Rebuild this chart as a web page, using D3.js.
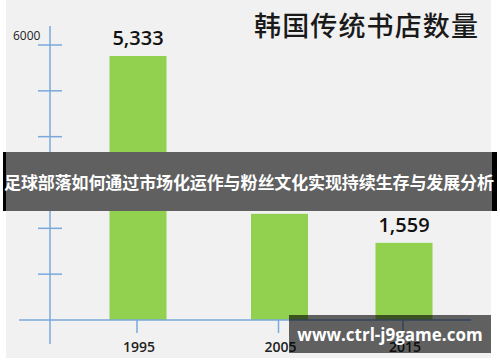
<!DOCTYPE html>
<html>
<head>
<meta charset="utf-8">
<script src="https://cdn.jsdelivr.net/npm/d3@7"></script>
<style>
  body { margin: 0; background: #fff; }
  svg { display: block; }
</style>
</head>
<body>
<svg width="500" height="362"></svg>
<script>
// data
var years = ["1995", "2005", "2015"];
var stores = [5333, 2145, 1559];
var yTicks = [0, 1000, 2000, 3000, 4000, 5000, 6000];
var yLabels = [3000, 6000];
var title = "韩国传统书店数量";
var banner = "足球部落如何通过市场化运作与粉丝文化实现持续生存与发展分析";
var watermark = "www.ctrl-j9game.com";

var svg = d3.select("svg");
var axisColor = "#7aa8dc";
var base = 320;

// background panel
svg.append("rect")
    .attr("x", 6).attr("y", 0)
    .attr("width", 485).attr("height", 358)
    .attr("fill", "#f1f1f1");

// scales
var x = d3.scaleOrdinal().domain(years).range([138, 279.5, 404]);
var yAxisScale = d3.scaleLinear().domain([0, 6000]).range([base, 45]);
var yBar = d3.scaleLinear().domain([0, 6000]).range([base, 23]);
var barW = 57;

// title
svg.append("text")
    .attr("x", 366).attr("y", 36)
    .attr("text-anchor", "middle")
    .attr("textLength", 224)
    .style("font-family", "'Noto Sans CJK SC'")
    .style("font-size", "27px")
    .style("font-weight", "500")
    .style("fill", "#1a1a1a")
    .text(title);

// bars
svg.selectAll(".bar")
    .data(stores)
  .enter().append("rect")
    .attr("class", "bar")
    .attr("x", function(d, i) { return x(years[i]) - barW / 2; })
    .attr("y", function(d) { return yBar(d); })
    .attr("width", barW)
    .attr("height", function(d) { return base - yBar(d); })
    .attr("fill", "#92d050");

// value labels
svg.selectAll(".val")
    .data(stores)
  .enter().append("text")
    .attr("class", "val")
    .attr("x", function(d, i) { return x(years[i]); })
    .attr("y", function(d) { return yBar(d) - 11; })
    .attr("text-anchor", "middle")
    .style("font-family", "'Open Sans', 'Noto Sans'")
    .style("font-size", "20px")
    .style("font-weight", "600")
    .style("fill", "#111")
    .text(function(d) { return d3.format(",")(d); });

// y axis
svg.append("line")
    .attr("x1", 50).attr("x2", 50)
    .attr("y1", 26).attr("y2", 344)
    .attr("stroke", axisColor).attr("stroke-width", 1.5);

svg.selectAll(".ytick")
    .data(yTicks.slice(1))
  .enter().append("line")
    .attr("class", "ytick")
    .attr("x1", 38).attr("x2", 62)
    .attr("y1", function(d) { return yAxisScale(d); })
    .attr("y2", function(d) { return yAxisScale(d); })
    .attr("stroke", axisColor).attr("stroke-width", 1.5);

svg.selectAll(".ylab")
    .data(yLabels)
  .enter().append("text")
    .attr("class", "ylab")
    .attr("x", function(d) { return d === 6000 ? 13 : 15; })
    .attr("y", function(d) { return yAxisScale(d) - 5; })
    .style("font-family", "'Open Sans', 'Noto Sans'")
    .style("font-size", "12px")
    .style("fill", "#222")
    .text(function(d) { return d; });

// x axis
svg.append("line")
    .attr("x1", 19).attr("x2", 471)
    .attr("y1", base).attr("y2", base)
    .attr("stroke", axisColor).attr("stroke-width", 1.5);

svg.selectAll(".xtick")
    .data(years)
  .enter().append("line")
    .attr("class", "xtick")
    .attr("x1", function(d) { return x(d) - 1; })
    .attr("x2", function(d) { return x(d) - 1; })
    .attr("y1", base).attr("y2", 333)
    .attr("stroke", axisColor).attr("stroke-width", 1.5);

svg.selectAll(".xlab")
    .data(years)
  .enter().append("text")
    .attr("class", "xlab")
    .attr("x", function(d) { return x(d) + 1; })
    .attr("y", 352)
    .attr("text-anchor", "middle")
    .style("font-family", "'Open Sans', 'Noto Sans'")
    .style("font-size", "14px")
    .style("font-weight", "600")
    .style("fill", "#222")
    .text(function(d) { return d; });

// banner overlay
svg.append("rect")
    .attr("x", 3).attr("y", 152)
    .attr("width", 494).attr("height", 59)
    .attr("fill", "#000");
svg.append("rect")
    .attr("x", 6).attr("y", 152)
    .attr("width", 486).attr("height", 59)
    .attr("fill", "#f1f1f1");
svg.append("rect")
    .attr("x", 3).attr("y", 152)
    .attr("width", 494).attr("height", 59)
    .attr("fill", "rgba(0,0,0,0.6)");
svg.append("text")
    .attr("x", 249).attr("y", 189)
    .attr("text-anchor", "middle")
    .attr("textLength", 490)
    .style("font-family", "'Noto Sans CJK SC'")
    .style("font-size", "17px")
    .style("font-weight", "bold")
    .style("fill", "#fff")
    .text(banner);

// watermark box
svg.append("rect")
    .attr("x", 289).attr("y", 315)
    .attr("width", 202).attr("height", 38)
    .attr("fill", "rgba(0,0,0,0.6)");
svg.append("text")
    .attr("x", 390).attr("y", 341)
    .attr("text-anchor", "middle")
    .style("font-family", "'Open Sans', 'Noto Sans'")
    .style("font-size", "17px")
    .style("font-weight", "bold")
    .style("fill", "#fff")
    .text(watermark);
</script>
</body>
</html>
